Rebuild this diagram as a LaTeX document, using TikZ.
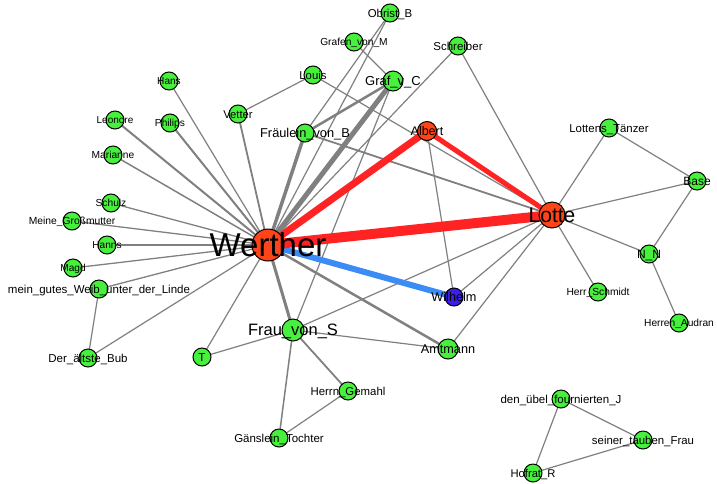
\documentclass[tikz,border=0pt]{standalone}
\usepackage{fontspec}
\setmainfont{Liberation Sans}
\usetikzlibrary{backgrounds}

\definecolor{nodegreen}{RGB}{70,240,60}
\definecolor{hubred}{RGB}{255,68,25}
\definecolor{wblue}{RGB}{60,30,235}
\definecolor{edgegray}{RGB}{128,128,128}
\definecolor{edgered}{RGB}{255,35,35}
\definecolor{edgeblue}{RGB}{60,140,245}

\tikzset{
  person/.style={circle, draw=black, line width=1pt, fill=nodegreen,
                 minimum size=18pt, inner sep=0pt},
  hub/.style={person, fill=hubred},
  friend/.style={person, fill=wblue},
  % label font size in pt; the box is cut to the cap height so that
  % the capitals sit centred on the circle
  fs/.style={font=\fontsize{#1}{#1}\selectfont, text height=0.72*#1pt, text depth=0pt},
  every label/.style={inner sep=0pt, text=black},
  tie/.style={draw=edgegray, line width=#1},
  tie/.default=1.2pt,
  redtie/.style={draw=edgered, line width=#1},
  bluetie/.style={draw=edgeblue, line width=#1},
}

\begin{document}
\begin{tikzpicture}[x=1pt, y=-1pt]
\useasboundingbox (0,0) rectangle (717,483);

% --- characters ---
\node[person, label={[fs=11.4]center:Obrist\_B}]        (obrist)   at (390,13)  {};
\node[person, label={[fs=10.2]center:Grafen\_von\_M}]   (grafenm)  at (354,42)  {};
\node[person, label={[fs=11.5]center:Schreiber}]        (schreib)  at (458,46)  {};
\node[person, label={[fs=11.4]center:Louis}]            (louis)    at (313,75)  {};
\node[person, minimum size=20pt, label={[fs=13]center:Graf\_v\_C}] (grafvc) at (393,81) {};
\node[person, label={[fs=10.1]center:Hans}]             (hans)     at (169,81)  {};
\node[person, label={[fs=11.2]center:Vetter}]           (vetter)   at (238,114) {};
\node[person, label={[fs=10]center:Leonore}]            (leonore)  at (115,120) {};
\node[person, label={[fs=10.2]center:Philips}]          (philips)  at (170,123) {};
\node[person, label={[fs=12.8]center:Fräulein\_von\_B}] (fraeulein) at (305,133) {};
\node[hub, minimum size=19pt, label={[fs=12.5]center:Albert}] (albert) at (427,131) {};
\node[person, label={[fs=10.2]center:Marianne}]         (marianne) at (113,155) {};
\node[person, label={[fs=11.4]center:Lottens\_Tänzer}]  (taenzer)  at (609,128) {};
\node[person, label={[fs=12]center:Base}]               (base)     at (697,181) {};
\node[person, label={[fs=10.2]center:Schulz}]           (schulz)   at (111,203) {};
\node[person, label={[fs=10.3]center:Meine\_Großmutter}] (oma)     at (72,221)  {};
\node[person, label={[fs=10.1]center:Hanns}]            (hanns)    at (107,245) {};
\node[hub, minimum size=32pt, label={[fs=33]center:Werther}] (werther) at (268,245) {};
\node[hub, minimum size=26pt, label={[fs=21]center:Lotte}]   (lotte)   at (552,215) {};
\node[person, label={[fs=10.1]center:Magd}]             (magd)     at (73,268)  {};
\node[person, label={[fs=12]center:N\_N}]               (nn)       at (649,254) {};
\node[person, label={[fs=11.5]center:mein\_gutes\_Weib\_unter\_der\_Linde}] (weib) at (99,289) {};
\node[friend, label={[fs=12.7]center:Wilhelm}]          (wilhelm)  at (454,297) {};
\node[person, label={[fs=10.3]center:Herr\_Schmidt}]    (schmidt)  at (598,292) {};
\node[person, minimum size=22pt, label={[fs=16.5]center:Frau\_von\_S}] (frau) at (293,330) {};
\node[person, label={[fs=10.2]center:Herren\_Audran}]   (audran)   at (679,323) {};
\node[person, label={[fs=11.5]center:T}]                (t)        at (202,357) {};
\node[person, label={[fs=11.5]center:Der\_ältste\_Bub}] (bub)      at (88,358)  {};
\node[person, minimum size=20pt, label={[fs=12.7]center:Amtmann}] (amtmann) at (448,349) {};
\node[person, label={[fs=11.4]center:Herrn\_Gemahl}]    (gemahl)   at (348,391) {};
\node[person, label={[fs=11.5]center:Gänslein\_Tochter}] (tochter) at (279,438) {};
\node[person, label={[fs=11.5]center:den\_übel\_fournierten\_J}] (uebel) at (561,399) {};
\node[person, label={[fs=11.4]center:seiner\_tauben\_Frau}] (taube) at (643,440) {};
\node[person, label={[fs=11.2]center:Hofrat\_R}]        (hofrat)   at (533,473) {};

% --- relations, beneath the circles ---
\begin{pgfonlayer}{background}
\fill[white] (0,0) rectangle (717,483);

% Werther's acquaintances
\draw[tie]        (werther.center) -- (hans.center);
\draw[tie=2pt]    (werther.center) -- (leonore.center);
\draw[tie=2pt]    (werther.center) -- (philips.center);
\draw[tie=1.5pt]  (werther.center) -- (marianne.center);
\draw[tie=1.8pt]  (werther.center) -- (vetter.center);
\draw[tie=1.3pt]  (werther.center) -- (schulz.center);
\draw[tie=1.3pt]  (werther.center) -- (oma.center);
\draw[tie=1.5pt]  (werther.center) -- (hanns.center);
\draw[tie=1.3pt]  (werther.center) -- (magd.center);
\draw[tie=1.3pt]  (werther.center) -- (weib.center);
\draw[tie]        (werther.center) -- (bub.center);
\draw[tie]        (werther.center) -- (t.center);
\draw[tie=3pt]    (werther.center) -- (frau.center);
\draw[tie=2.5pt]  (werther.center) -- (amtmann.center);
\draw[tie=3.5pt]  (werther.center) -- (fraeulein.center);
\draw[tie=5pt]    (werther.center) -- (grafvc.center);
\draw[tie]        (werther.center) -- (obrist.center);
\draw[tie]        (werther.center) -- (schreib.center);

% upper circle
\draw[tie]        (obrist.center) -- (fraeulein.center);
\draw[tie]        (grafenm.center) -- (grafvc.center);
\draw[tie]        (louis.center) -- (vetter.center);
\draw[tie]        (louis.center) -- (lotte.center);
\draw[tie=2.5pt]  (grafvc.center) -- (fraeulein.center);
\draw[tie]        (grafvc.center) -- (frau.center);
\draw[tie=1.8pt]  (fraeulein.center) -- (lotte.center);
\draw[tie]        (schreib.center) -- (lotte.center);
\draw[tie]        (albert.center) -- (wilhelm.center);
\draw[tie]        (wilhelm.center) -- (lotte.center);
\draw[tie]        (amtmann.center) -- (lotte.center);

% Frau von S and her household
\draw[tie]        (frau.center) -- (lotte.center);
\draw[tie]        (frau.center) -- (amtmann.center);
\draw[tie]        (frau.center) -- (t.center);
\draw[tie=1.8pt]  (frau.center) -- (gemahl.center);
\draw[tie=1.5pt]  (frau.center) -- (tochter.center);
\draw[tie]        (gemahl.center) -- (tochter.center);
\draw[tie]        (weib.center) -- (bub.center);

% Lotte's side
\draw[tie]        (lotte.center) -- (taenzer.center);
\draw[tie]        (lotte.center) -- (base.center);
\draw[tie]        (lotte.center) -- (nn.center);
\draw[tie]        (lotte.center) -- (schmidt.center);
\draw[tie]        (taenzer.center) -- (base.center);
\draw[tie]        (base.center) -- (nn.center);
\draw[tie]        (nn.center) -- (audran.center);

% separate triangle
\draw[tie]        (uebel.center) -- (taube.center);
\draw[tie]        (uebel.center) -- (hofrat.center);
\draw[tie]        (taube.center) -- (hofrat.center);

% strongest bonds
\draw[redtie=5pt]  (albert.center) -- (lotte.center);
\draw[redtie=7pt]  (werther.center) -- (albert.center);
\draw[bluetie=6pt] (werther.center) -- (wilhelm.center);
\draw[redtie=10pt] (werther.center) -- (lotte.center);
\end{pgfonlayer}
\end{tikzpicture}
\end{document}
